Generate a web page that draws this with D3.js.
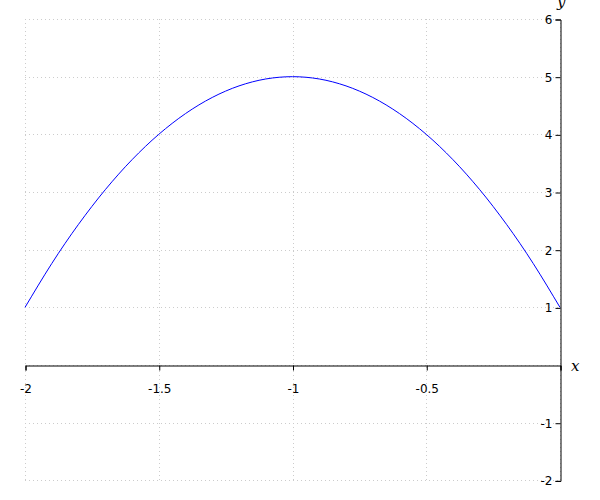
<!DOCTYPE html>
<html><head><meta charset="utf-8">
<script src="https://cdn.jsdelivr.net/npm/d3@7"></script>
<style>body{margin:0;background:#fff}svg{display:block}</style>
</head><body>
<svg id="c" width="600" height="500"></svg>
<script>
const xValues = [-2, -1.9, -1.8, -1.7, -1.6, -1.5, -1.4, -1.3, -1.2, -1.1, -1, -0.9, -0.8, -0.7, -0.6, -0.5, -0.4, -0.3, -0.2, -0.1, 0];
const yValues = [1, 1.76, 2.44, 3.04, 3.56, 4, 4.36, 4.64, 4.84, 4.96, 5, 4.96, 4.84, 4.64, 4.36, 4, 3.56, 3.04, 2.44, 1.76, 1];
const xTicks = [-2, -1.5, -1, -0.5, 0];
const yTicks = [-2, -1, 1, 2, 3, 4, 5, 6];
const xTickLabels = ["-2", "-1.5", "-1", "-0.5", ""];
const yTickLabels = ["-2", "-1", "1", "2", "3", "4", "5", "6"];
const yGrid = [-2, -1, 0, 1, 2, 3, 4, 5, 6];

const svg = d3.select("#c");
const x = d3.scaleLinear().domain([-2, 0]).range([25, 560]);
const y = d3.scaleLinear().domain([-2, 6]).range([480.4, 19]);

const grid = svg.append("g").attr("stroke", "#ccc").attr("stroke-width", 1).attr("stroke-dasharray", "1,3");
grid.selectAll(".gx").data(xTicks).join("line")
  .attr("x1", d => Math.round(x(d)) + 0.5).attr("x2", d => Math.round(x(d)) + 0.5)
  .attr("y1", y(6)).attr("y2", y(-2));
grid.selectAll(".gy").data(yGrid).join("line")
  .attr("y1", d => Math.round(y(d)) + 0.5).attr("y2", d => Math.round(y(d)) + 0.5)
  .attr("x1", x(-2)).attr("x2", x(0));

svg.append("path").datum(yValues)
  .attr("d", d3.line().x((d, i) => x(xValues[i])).y(d => y(d)).curve(d3.curveNatural))
  .attr("fill", "none").attr("stroke", "#0000ff").attr("stroke-width", 1);

const xAxis = d3.axisBottom(x).tickValues(xTicks).tickFormat((d, i) => xTickLabels[i]).tickSizeOuter(0).tickSize(5).tickPadding(14);
const gx = svg.append("g").attr("transform", `translate(0.5,${Math.round(y(0)) + 0.5})`).call(xAxis);
gx.select(".domain").attr("stroke", "#000");
gx.selectAll("text").attr("font-family", "DejaVu Sans, sans-serif").attr("font-size", 12).attr("fill", "#000");

const yAxis = d3.axisLeft(y).tickValues(yTicks).tickFormat((d, i) => yTickLabels[i]).tickSizeOuter(0).tickSize(5).tickPadding(3);
const gy = svg.append("g").attr("transform", `translate(${Math.round(x(0)) + 0.5},0.5)`).call(yAxis);
gy.select(".domain").attr("stroke", "#000");
gy.selectAll("text").attr("font-family", "DejaVu Sans, sans-serif").attr("font-size", 12).attr("fill", "#000");

svg.append("text").text("x").attr("x", 571).attr("y", 371)
  .attr("font-family", "DejaVu Serif, serif").attr("font-style", "italic").attr("font-size", 15);
svg.append("text").text("y").attr("x", 557).attr("y", 7)
  .attr("font-family", "DejaVu Serif, serif").attr("font-style", "italic").attr("font-size", 15);
</script>
</body></html>
